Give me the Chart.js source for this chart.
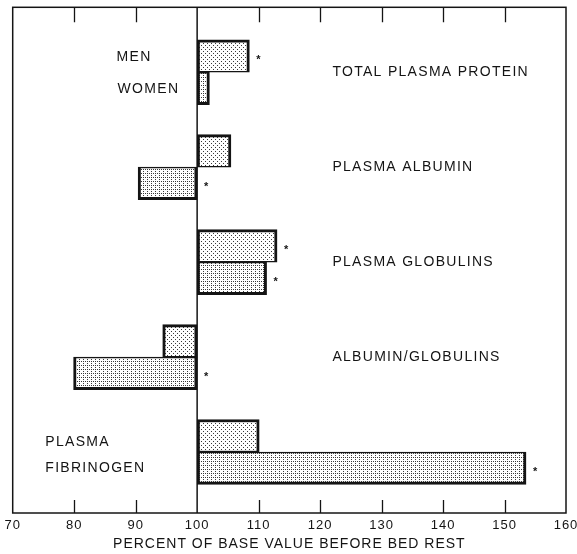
<!DOCTYPE html>
<html>
<head>
<meta charset="utf-8">
<style>
  html, body { margin: 0; padding: 0; background: #fff; }
  #c { display: block; }
</style>
<script src="https://cdn.jsdelivr.net/npm/chart.js@4.4.0/dist/chart.umd.min.js"></script>
</head>
<body>
<canvas id="c" width="577" height="554"></canvas>
<script>
// Blood measures after bed rest, as percent of the pre-bed-rest base value
const measureLabels = [
  ['TOTAL PLASMA PROTEIN'],
  ['PLASMA ALBUMIN'],
  ['PLASMA GLOBULINS'],
  ['ALBUMIN/GLOBULINS'],
  ['PLASMA', 'FIBRINOGEN']
];
const menValues   = [108.5, 105.5, 113.0, 94.4, 110.1];
const womenValues = [102.0, 90.4, 111.3, 79.9, 153.5];
// significant change marked with an asterisk
const menSignificant   = [true, false, true, false, false];
const womenSignificant = [false, true, true, true, true];
const baseValue = 100;
const axisMin = 70;
const axisMax = 160;
const axisStep = 10;
const axisTitle = 'PERCENT OF BASE VALUE BEFORE BED REST';

const FONT = '"Liberation Sans", Arial, sans-serif';
const INK = '#141414';

function dotPattern(size, dots, ink) {
  const c = document.createElement('canvas');
  c.width = size; c.height = size;
  const g = c.getContext('2d');
  g.fillStyle = '#fff';
  g.fillRect(0, 0, size, size);
  g.fillStyle = ink;
  dots.forEach(([px, py]) => g.fillRect(px, py, 1, 1));
  return g.createPattern(c, 'repeat');
}
const menFill = dotPattern(4, [[1, 1], [3, 3]], '#3a3a3a');
const womenFill = dotPattern(4, [[1, 1], [3, 3], [3, 1]], '#3a3a3a');

const toPoints = vals => vals.map((v, i) => ({ y: i, x: [baseValue, v] }));

const decor = {
  id: 'decor',
  beforeDraw(chart) {
    chart.ctx.letterSpacing = '1px';
  },
  afterDatasetsDraw(chart) {
    const { ctx, chartArea: a, scales: { x } } = chart;
    ctx.save();
    ctx.strokeStyle = INK;
    ctx.lineWidth = 1.5;
    ctx.strokeRect(a.left, a.top, a.right - a.left, a.bottom - a.top);
    const bx = x.getPixelForValue(baseValue);
    ctx.beginPath();
    ctx.moveTo(bx, a.top);
    ctx.lineTo(bx, a.bottom);
    ctx.stroke();
    ctx.lineWidth = 1.3;
    x.ticks.forEach(t => {
      if (t.value <= x.min || t.value >= x.max || t.value === baseValue) return;
      const px = Math.round(x.getPixelForValue(t.value)) + 0.5;
      ctx.beginPath();
      ctx.moveTo(px, a.top);
      ctx.lineTo(px, a.top + 15);
      ctx.moveTo(px, a.bottom);
      ctx.lineTo(px, a.bottom - 13);
      ctx.stroke();
    });
    ctx.restore();
  },
  afterDraw(chart) {
    const { ctx, scales: { x, y } } = chart;
    const men = chart.getDatasetMeta(0).data;
    const women = chart.getDatasetMeta(1).data;
    ctx.save();
    ctx.letterSpacing = '1.3px';
    ctx.fillStyle = INK;
    ctx.font = '14px ' + FONT;
    ctx.textBaseline = 'middle';
    ctx.textAlign = 'left';

    // measure names
    measureLabels.forEach((lines, i) => {
      const cy = y.getPixelForValue(i);
      const widest = Math.max(menValues[i], womenValues[i]);
      if (widest > 120) {
        // no room on the right: stacked on the left of the base line
        const lx = x.getPixelForValue(75.3);
        ctx.fillText(lines[0], lx, cy - 10);
        ctx.fillText(lines[1], lx, cy + 16);
      } else {
        ctx.fillText(lines.join(' '), x.getPixelForValue(122), cy);
      }
    });

    // series key beside the first pair of bars
    const kx = x.getPixelForValue(86.9);
    ctx.fillText(chart.data.datasets[0].label, kx, men[0].y + 1);
    ctx.fillText(chart.data.datasets[1].label, kx + 1, women[0].y + 1);

    // asterisks
    ctx.letterSpacing = '0px';
    ctx.font = 'bold 11px ' + FONT;
    ctx.textAlign = 'center';
    ctx.textBaseline = 'alphabetic';
    const star = (el) => {
      const dir = el.x >= el.base ? 1 : -1;
      ctx.fillText('*', el.x + dir * 9, el.y + 7);
    };
    menSignificant.forEach((s, i) => { if (s) star(men[i]); });
    womenSignificant.forEach((s, i) => { if (s) star(women[i]); });
    ctx.restore();
  }
};

new Chart(document.getElementById('c'), {
  type: 'bar',
  data: {
    datasets: [
      {
        label: 'MEN',
        data: toPoints(menValues),
        backgroundColor: menFill,
        borderColor: INK,
        borderWidth: { top: 3, right: 3, bottom: 1.5, left: 3 },
        borderSkipped: false
      },
      {
        label: 'WOMEN',
        data: toPoints(womenValues),
        backgroundColor: womenFill,
        borderColor: INK,
        borderWidth: { top: 1.5, right: 3, bottom: 3, left: 3 },
        borderSkipped: false
      }
    ]
  },
  options: {
    indexAxis: 'y',
    responsive: false,
    animation: false,
    devicePixelRatio: 1,
    barThickness: 32.5,
    layout: { padding: { left: 12.7, right: 11, top: 7.3, bottom: 0 } },
    plugins: { legend: { display: false }, tooltip: { enabled: false } },
    scales: {
      x: {
        type: 'linear',
        min: axisMin,
        max: axisMax,
        afterFit(scale) {
          scale.height = 41;
          scale.paddingLeft = 0;
          scale.paddingRight = 0;
        },
        ticks: {
          stepSize: axisStep,
          color: INK,
          padding: 5,
          maxRotation: 0,
          font: { family: FONT, size: 13 }
        },
        grid: { display: false, drawTicks: false },
        border: { display: false },
        title: {
          display: true,
          text: axisTitle,
          color: INK,
          padding: { top: 0, bottom: 1 },
          font: { family: FONT, size: 14 }
        }
      },
      y: {
        type: 'linear',
        reverse: true,
        offset: false,
        min: -0.684,
        max: 4.642,
        display: false
      }
    }
  },
  plugins: [decor]
});
</script>
</body>
</html>
